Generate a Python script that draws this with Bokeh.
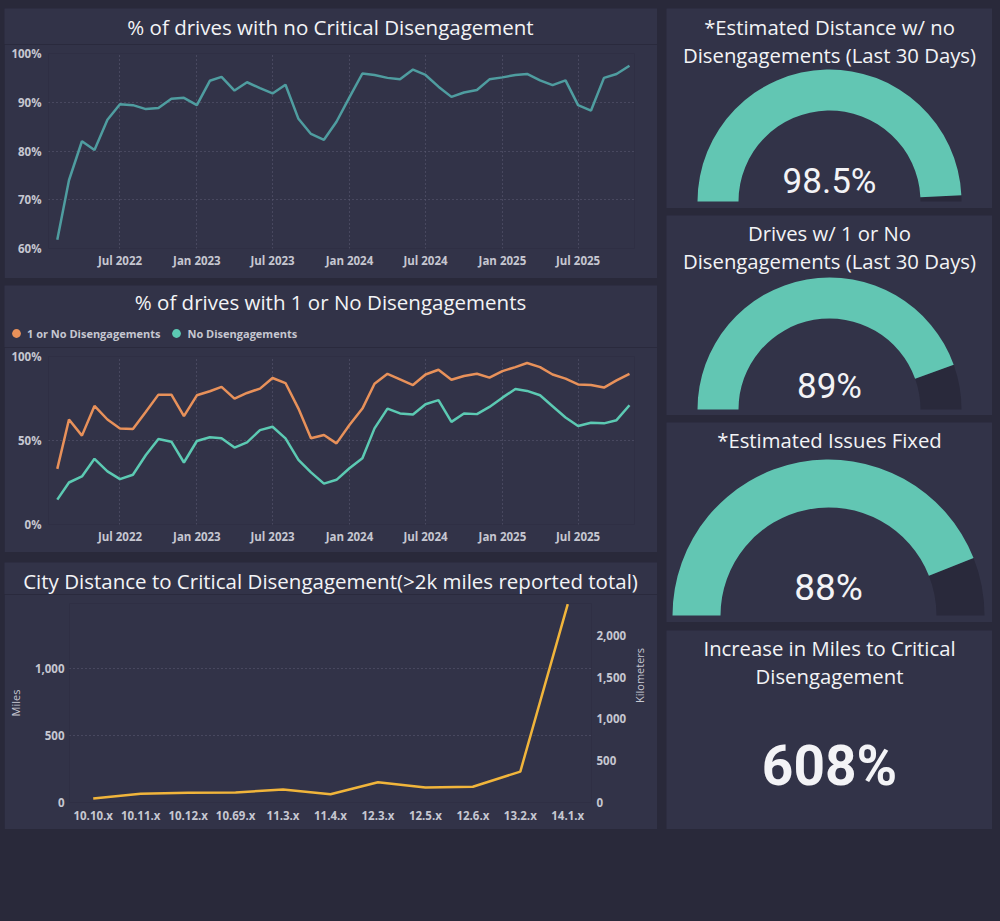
from math import pi
from datetime import timedelta

import pandas as pd
from bokeh.plotting import figure
from bokeh.layouts import column, row
from bokeh.models import (Range1d, FixedTicker, DatetimeTickFormatter, PrintfTickFormatter,
                          NumeralTickFormatter, LinearAxis, Label, Legend, LegendItem, FactorRange)
from bokeh.core.properties import value
from bokeh.embed import file_html
from bokeh.resources import INLINE

# ---------------------------------------------------------------- data
months = pd.date_range("2022-02-01", periods=46, freq="MS")
tick_months = ["2022-07-01", "2023-01-01", "2023-07-01", "2024-01-01",
               "2024-07-01", "2025-01-01", "2025-07-01"]

no_critical = [61.8, 74.0, 82.0, 80.2, 86.4, 89.6, 89.4, 88.6, 88.8, 90.7,
               90.9, 89.4, 94.4, 95.2, 92.4, 94.1, 92.9, 91.8, 93.6, 86.6,
               83.5, 82.3, 86.0, 91.0, 95.9, 95.6, 95.0, 94.7, 96.7, 95.6,
               93.2, 91.1, 92.0, 92.5, 94.7, 95.1, 95.6, 95.8, 94.5, 93.5,
               94.5, 89.4, 88.3, 95.0, 95.8, 97.5]

one_or_none = [33.1, 62.5, 52.9, 70.6, 62.5, 57.2, 56.8, 67.1, 77.3, 77.3,
               64.5, 76.9, 79.3, 81.9, 74.9, 78.3, 80.9, 87.2, 84.2, 69.0,
               51.3, 53.3, 48.3, 59.2, 69.0, 83.8, 89.7, 86.4, 83.0, 89.3,
               92.1, 86.2, 88.4, 89.7, 87.4, 91.3, 93.7, 96.1, 93.7, 89.3,
               86.8, 83.4, 83.0, 81.5, 85.8, 89.7]

no_diseng = [14.8, 25.0, 28.6, 39.1, 31.6, 27.0, 29.6, 41.4, 50.9, 49.3,
             36.9, 49.7, 51.9, 51.3, 45.8, 48.9, 56.2, 58.2, 51.3, 38.5,
             31.0, 24.3, 26.6, 33.5, 39.4, 57.2, 69.0, 66.1, 65.5, 71.6,
             74.0, 61.1, 66.1, 65.7, 70.0, 75.5, 80.7, 79.5, 76.9, 70.4,
             63.7, 58.6, 60.6, 60.2, 62.1, 71.0]

versions = ["10.10.x", "10.11.x", "10.12.x", "10.69.x", "11.3.x", "11.4.x",
            "12.3.x", "12.5.x", "12.6.x", "13.2.x", "14.1.x"]
city_miles = [30, 65, 72, 75, 97, 62, 150, 112, 117, 230, 1475]
KM_PER_MILE = 1.609

gauge_titles = [["*Estimated Distance w/ no", "Disengagements (Last 30 Days)"],
                ["Drives w/ 1 or No", "Disengagements (Last 30 Days)"],
                ["*Estimated Issues Fixed"]]
gauge_values = [98.5, 89, 88]
kpi_title = ["Increase in Miles to Critical", "Disengagement"]
kpi_value = 608

# ---------------------------------------------------------------- style
BG = "#29293a"
PANEL = "#323348"
TRACK = "#29293b"
TITLE_C = "#f3f3f6"
TICK_C = "#c6c7d1"
GRID_C = "#5e5f76"
C_NOCRIT = "#4f9da0"
C_ORANGE = "#e8915a"
C_TEAL = "#5ccab3"
C_YELLOW = "#f1b53b"
C_GAUGE = "#62c6b3"
TITLE_FONT = "Open Sans"
TITLE_SIZE = "20.5px"
CARD_TITLE_SIZE = "20.3px"
TICK_SIZE = "11.5px"


def base_figure(width, height, margin, **kw):
    p = figure(width=width, height=height, output_backend="svg", toolbar_location=None,
               background_fill_color=PANEL, border_fill_color=PANEL,
               outline_line_color=None, margin=margin, **kw)
    return p


def header(height, margin, title, title_y):
    """Strip above a chart holding its centred title."""
    h = base_figure(653, height, margin, x_range=Range1d(0, 653), y_range=Range1d(0, height),
                    x_axis_type=None, y_axis_type=None, min_border=0)
    h.grid.visible = False
    h.add_layout(Label(x=326, y=title_y, text=title, text_align="center",
                       text_baseline="middle", text_font=TITLE_FONT,
                       text_font_size=TITLE_SIZE, text_color=TITLE_C))
    return h


def style_axes(p):
    for ax in p.axis:
        ax.axis_line_color = None
        ax.major_tick_line_color = None
        ax.minor_tick_line_color = None
        ax.major_tick_out = 0
        ax.major_label_text_color = TICK_C
        ax.major_label_text_font = TITLE_FONT
        ax.major_label_text_font_size = TICK_SIZE
        ax.major_label_text_font_style = "bold"
        ax.axis_label_text_color = TICK_C
        ax.axis_label_text_font = TITLE_FONT
        ax.axis_label_text_font_size = "11px"
        ax.axis_label_text_font_style = "normal"
    p.grid.grid_line_color = GRID_C
    p.grid.grid_line_dash = "1 3"
    p.grid.grid_line_width = 1


def time_axes(p, y_ticks):
    ticks = [pd.Timestamp(t).value / 1e6 for t in tick_months]
    p.xaxis.ticker = FixedTicker(ticks=ticks)
    p.xaxis.formatter = DatetimeTickFormatter(days="%b %Y", months="%b %Y", years="%b %Y")
    p.xaxis.major_label_standoff = 4
    p.yaxis.ticker = FixedTicker(ticks=y_ticks)
    p.yaxis.formatter = PrintfTickFormatter(format="%d%%")
    p.yaxis.major_label_standoff = 7


x_start = months[0].to_pydatetime() - timedelta(days=21)
x_end = months[-1].to_pydatetime() + timedelta(days=12)

# ---------------------------------------------------------------- % with no critical disengagement
h1 = header(36, (8, 0, 0, 4), "% of drives with no Critical Disengagement", 18)
p1 = base_figure(653, 234, (0, 0, 0, 4), x_axis_type="datetime",
                 x_range=Range1d(x_start, x_end), y_range=Range1d(60, 100),
                 min_border_left=44, min_border_right=23, min_border_top=9, min_border_bottom=30)
p1.line(months, no_critical, line_color=C_NOCRIT, line_width=2.5)
style_axes(p1)
time_axes(p1, [60, 70, 80, 90, 100])

# ---------------------------------------------------------------- % with 1 or no disengagements
h2 = header(62, (7, 0, 0, 4), "% of drives with 1 or No Disengagements", 46)
# legend keys: the series themselves, far outside this strip's pixel range
key_o = h2.scatter(months, one_or_none, marker="circle", size=9,
                   fill_color=C_ORANGE, line_color=None)
key_t = h2.scatter(months, no_diseng, marker="circle", size=9,
                   fill_color=C_TEAL, line_color=None)
legend = Legend(items=[LegendItem(label="1 or No Disengagements", renderers=[key_o]),
                       LegendItem(label="No Disengagements", renderers=[key_t])],
                location=(1, 3), orientation="horizontal",
                background_fill_alpha=0, border_line_color=None,
                padding=0, margin=0, spacing=5, label_standoff=-9,
                glyph_width=22, glyph_height=22, label_height=12,
                label_text_font=TITLE_FONT, label_text_font_size="11px",
                label_text_font_style="bold", label_text_color=TICK_C)
h2.add_layout(legend)

p2 = base_figure(653, 205, (0, 0, 0, 4), x_axis_type="datetime",
                 x_range=Range1d(x_start, x_end), y_range=Range1d(0, 100),
                 min_border_left=44, min_border_right=23, min_border_top=9, min_border_bottom=28)
p2.line(months, one_or_none, line_color=C_ORANGE, line_width=2.5)
p2.line(months, no_diseng, line_color=C_TEAL, line_width=2.5)
style_axes(p2)
time_axes(p2, [0, 50, 100])

# ---------------------------------------------------------------- city distance by version
h3 = header(32, (10, 0, 0, 4),
            "City Distance to Critical Disengagement(>2k miles reported total)", 14)
p3 = base_figure(653, 235, (0, 0, 0, 4), x_range=FactorRange(factors=versions),
                 y_range=Range1d(0, 1480),
                 min_border_left=62, min_border_right=59, min_border_top=9, min_border_bottom=27)
p3.extra_y_ranges = {"km": Range1d(0, 1480 * KM_PER_MILE)}
p3.line(versions, city_miles, line_color=C_YELLOW, line_width=2.5)
p3.add_layout(LinearAxis(y_range_name="km", axis_label="Kilometers"), "right")
style_axes(p3)
p3.xgrid.visible = False
p3.xaxis.major_label_standoff = 5
p3.yaxis[0].axis_label = "Miles"
p3.yaxis[0].ticker = FixedTicker(ticks=[0, 500, 1000])
p3.yaxis[0].formatter = NumeralTickFormatter(format="0,0")
p3.yaxis[0].major_label_standoff = 5
p3.yaxis[0].axis_label_standoff = 9
p3.yaxis[1].ticker = FixedTicker(ticks=[0, 500, 1000, 1500, 2000])
p3.yaxis[1].formatter = NumeralTickFormatter(format="0,0")
p3.yaxis[1].major_label_standoff = 5
p3.yaxis[1].axis_label_standoff = 10
if "axis_label_orientation" in p3.yaxis[1].properties():
    p3.yaxis[1].axis_label_orientation = pi / 2
p3.ygrid.ticker = FixedTicker(ticks=[0, 500, 1000])


# ---------------------------------------------------------------- gauges
def card(height, margin):
    g = base_figure(326, height, margin, x_range=Range1d(0, 326), y_range=Range1d(0, height),
                    x_axis_type=None, y_axis_type=None, min_border=0)
    g.grid.visible = False
    return g


def card_title(g, lines, top_y):
    for i, line in enumerate(lines):
        g.add_layout(Label(x=163, y=top_y - 28 * i, text=line, text_align="center",
                           text_baseline="middle", text_font=TITLE_FONT,
                           text_font_size=CARD_TITLE_SIZE, text_color=TITLE_C))


def gauge(g, val, cx, cy, r_in, r_out, text_y, text_size):
    cut = pi * (1 - val / 100)
    g.annular_wedge(x=[cx], y=[cy], inner_radius=r_in, outer_radius=r_out,
                    start_angle=0, end_angle=cut, fill_color=TRACK, line_color=None)
    g.annular_wedge(x=[cx], y=[cy], inner_radius=r_in, outer_radius=r_out,
                    start_angle=cut, end_angle=pi, fill_color=C_GAUGE, line_color=None)
    g.text(x=[cx], y=[text_y], text=[f"{val:g}%"], text_align="center", text_baseline="middle",
           text_font=value("Roboto"), text_font_size=text_size, text_color=TITLE_C)


g1 = card(200, (8, 0, 0, 9))
gauge(g1, gauge_values[0], 163, 7, 91, 132, 27, "35px")
card_title(g1, gauge_titles[0], 182)

g2 = card(200, (7, 0, 0, 9))
gauge(g2, gauge_values[1], 163, 6, 91, 132, 29, "35px")
card_title(g2, gauge_titles[1], 183)

g3 = card(200, (7, 0, 0, 9))
gauge(g3, gauge_values[2], 162, 7, 108, 156, 35, "37px")
card_title(g3, gauge_titles[2], 183)

g4 = card(199, (8, 0, 0, 9))
card_title(g4, kpi_title, 182)
g4.text(x=[163], y=[64], text=[f"{kpi_value}%"], text_align="center", text_baseline="middle",
        text_font=value("Roboto"), text_font_size="55px", text_font_style="bold",
        text_color=TITLE_C)

# each chart sits in its own box so its frame is laid out independently
left = column(column(h1, row(p1)), column(h2, row(p2)), column(h3, row(p3)))
right = column(g1, g2, g3, g4)
page = column(row(left, right), width=1000, height=921, sizing_mode="fixed",
              styles={"background-color": BG})

open("out.html", "w").write(file_html(page, INLINE, title="FSD disengagement dashboard"))
